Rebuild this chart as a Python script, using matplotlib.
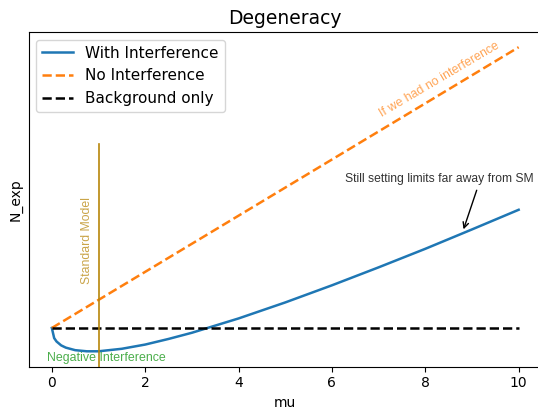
import numpy as np
import matplotlib.pyplot as plt

# values (arbitrary units, background = 10)
mu = [0, 0.05, 0.1, 0.2, 0.3, 0.5, 0.75, 1, 1.5, 2, 2.5, 3, 4, 5, 6, 7, 8, 9, 10]
with_interf = [10.0, 9.64, 9.52, 9.38, 9.30, 9.21, 9.17, 9.17, 9.26, 9.41, 9.61,
               9.83, 10.34, 10.91, 11.52, 12.16, 12.82, 13.51, 14.21]
no_interf_mu = [0, 10]
no_interf = [10.0, 20.0]
bkg_mu = [0, 10]
bkg = [10.0, 10.0]
sm_mu = 1

fig, ax = plt.subplots(figsize=(5.38, 4.15), dpi=100)
ax.plot(mu, with_interf, '-', lw=1.8, color='#1f77b4', label='With Interference')
ax.plot(no_interf_mu, no_interf, '--', lw=1.8, color='#ff7f0e', label='No Interference')
ax.plot(bkg_mu, bkg, '--', lw=1.8, color='black', label='Background only')
ax.axvline(sm_mu, ymax=0.665, color='darkgoldenrod', lw=1.2)

# annotations
ann = ['Liberation Sans', 'DejaVu Sans']
ax.text(0.75, 13.1, 'Standard Model', rotation=90, color='darkgoldenrod', alpha=0.75,
        fontsize=8.8, family=ann, ha='center', va='center')
ax.text(-0.1, 8.92, 'Negative Interference', color='#2ca02c', alpha=0.85,
        fontsize=8.9, family=ann, ha='left', va='center')
ax.text(8.3, 18.85, 'If we had no interference', rotation=30.5, color='#ff7f0e', alpha=0.7,
        fontsize=8.9, family=ann, ha='center', va='center', rotation_mode='anchor')
ax.text(6.28, 15.32, 'Still setting limits far away from SM', color='#333333',
        fontsize=8.7, family=ann, ha='left', va='center')
ax.annotate('', xy=(8.8, 13.42), xytext=(9.12, 15.0),
            arrowprops=dict(arrowstyle='->', color='black', lw=1))

ax.set_yticks([])
ax.set_xlabel('mu')
ax.set_ylabel('N_exp')
ax.set_title('Degeneracy', fontsize=13.5)
ax.legend(loc='upper left', fontsize=11)
fig.subplots_adjust(left=28.5 / 538, right=542 / 538, top=1 - 32 / 415, bottom=1 - 366.5 / 415)
fig.savefig('out.png')
